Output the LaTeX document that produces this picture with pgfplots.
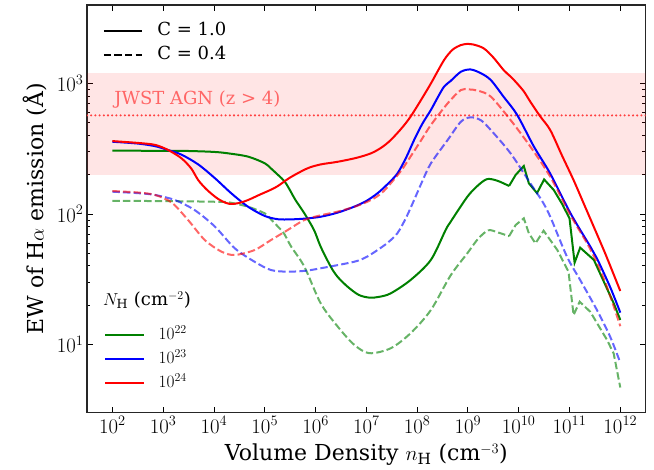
\documentclass[border=0pt]{standalone}
\usepackage{fontspec}
\setmainfont{DejaVu Serif}
\usepackage{pgfplots}
\usepackage{pgfplotstable}
\pgfplotsset{compat=1.18}
\definecolor{mgreen}{rgb}{0,0.5,0}
\definecolor{jwst}{rgb}{1,0.25,0.25}

% columns: L = log10(n_H), Y = log10(EW)
\pgfplotstableread{
L Y
2.0 2.485
2.5 2.485
3.0 2.484
3.5 2.483
4.0 2.476
4.28 2.465
4.67 2.44
5.0 2.389
5.12 2.35
5.26 2.30
5.39 2.25
5.5 2.18
5.6 2.11
5.78 2.005
5.97 1.877
6.1 1.75
6.3 1.596
6.43 1.52
6.63 1.443
6.85 1.38
7.06 1.359
7.25 1.365
7.48 1.392
7.87 1.494
8.27 1.648
8.56 1.877
8.66 1.941
8.99 2.133
9.2 2.22
9.38 2.268
9.58 2.255
9.81 2.215
}\gSa

\pgfplotstableread{
L Y
9.81 2.215
9.94 2.30
10.1 2.368
10.2 2.235
10.36 2.16
10.5 2.265
10.69 2.184
10.85 2.08
11.0 1.967
11.1 1.627
11.21 1.742
11.48 1.648
11.87 1.316
12.0 1.188
}\gSb

\pgfplotstableread{
L Y
2.0 2.10
2.5 2.10
3.0 2.099
3.5 2.097
4.0 2.094
4.28 2.09
4.67 2.056
5.0 2.005
5.12 1.96
5.26 1.903
5.38 1.85
5.52 1.75
5.78 1.596
6.1 1.316
6.43 1.14
6.76 0.998
7.06 0.933
7.48 0.971
7.87 1.086
8.27 1.264
8.66 1.53
8.99 1.70
9.2 1.81
9.4 1.875
9.58 1.86
9.81 1.83
}\gDa

\pgfplotstableread{
L Y
9.81 1.83
9.94 1.916
10.1 1.967
10.2 1.852
10.33 1.775
10.49 1.872
10.76 1.724
10.98 1.558
11.08 1.226
11.2 1.328
11.41 1.25
11.74 1.034
11.87 0.93
12.0 0.67
}\gDb

\pgfplotstableread{
L Y
2.0 2.554
2.5 2.54
2.84 2.52
3.1 2.49
3.36 2.455
3.69 2.38
4.02 2.274
4.34 2.159
4.67 2.056
5.0 1.985
5.26 1.96
5.52 1.959
5.8 1.965
6.1 1.979
6.43 2.01
6.76 2.056
7.0 2.10
7.22 2.159
7.42 2.23
7.61 2.31
7.78 2.43
7.94 2.567
8.1 2.69
8.27 2.797
8.4 2.89
8.53 2.976
8.66 3.02
8.86 3.09
9.05 3.108
9.25 3.08
9.45 3.027
9.7 2.90
9.97 2.759
10.3 2.516
10.62 2.31
11.02 2.005
11.41 1.75
11.54 1.66
11.8 1.44
12.0 1.244
}\bS

\pgfplotstableread{
L Y
2.0 2.171
2.5 2.16
2.84 2.146
3.23 2.107
3.62 2.03
4.02 1.903
4.41 1.737
4.8 1.634
5.12 1.571
5.45 1.558
5.8 1.565
6.1 1.584
6.76 1.634
7.0 1.67
7.22 1.724
7.42 1.78
7.61 1.852
7.78 1.97
7.94 2.107
8.1 2.25
8.27 2.388
8.6 2.567
8.86 2.707
9.05 2.741
9.25 2.72
9.45 2.644
9.84 2.465
10.23 2.235
10.46 2.10
10.62 1.98
10.95 1.673
11.21 1.494
11.54 1.264
11.8 1.06
12.0 0.86
}\bD

\pgfplotstableread{
L Y
2.0 2.559
2.5 2.545
2.84 2.53
3.1 2.49
3.36 2.427
3.55 2.35
3.69 2.26
3.85 2.19
4.02 2.133
4.15 2.10
4.31 2.077
4.5 2.085
4.67 2.107
4.9 2.148
5.12 2.186
5.26 2.215
5.5 2.28
5.84 2.35
6.1 2.38
6.43 2.40
6.8 2.43
7.09 2.465
7.3 2.51
7.48 2.567
7.7 2.66
7.87 2.746
8.07 2.87
8.27 3.0
8.53 3.18
8.7 3.26
8.86 3.295
8.95 3.303
9.1 3.30
9.31 3.27
9.5 3.20
9.71 3.10
9.85 3.05
9.97 3.0
10.1 2.94
10.23 2.86
10.42 2.75
10.62 2.644
10.85 2.45
11.08 2.26
11.28 2.08
11.48 1.90
11.7 1.70
11.9 1.507
12.0 1.41
}\rS

\pgfplotstableread{
L Y
2.0 2.176
2.5 2.165
2.84 2.146
3.17 2.087
3.49 1.954
3.82 1.80
4.15 1.711
4.41 1.686
4.8 1.724
5.12 1.80
5.45 1.877
5.78 1.954
6.1 1.99
6.43 2.018
6.8 2.06
7.09 2.107
7.3 2.16
7.48 2.235
7.7 2.34
7.87 2.44
8.07 2.56
8.27 2.682
8.6 2.848
8.86 2.95
9.02 2.955
9.2 2.945
9.45 2.90
9.84 2.72
10.23 2.516
10.62 2.286
11.02 1.99
11.41 1.73
11.7 1.48
12.0 1.14
}\rD

\pgfplotsset{
  solidline/.style={line width=2pt, forget plot},
  dashline/.style={line width=2pt, dash pattern=on 7.4pt off 3.2pt, opacity=0.6, forget plot},
  mylegend/.style={
    legend cell align=left,
    legend image code/.code={\draw[##1] (0pt,0pt) -- (38.5pt,0pt);},
    legend style={draw=none, fill=none, inner sep=0pt, row sep=7pt,
      font=\fontsize{18}{21}\selectfont,
      nodes={inner sep=0pt, text height=13pt, text depth=4pt},
      /tikz/every odd column/.style={column sep=14pt}},
  },
}

\begin{document}
\begin{tikzpicture}
\path[use as bounding box] (-87pt,-57.3pt) rectangle (567pt,412.7pt);
\begin{axis}[
  at={(0pt,0pt)}, anchor=south west,
  scale only axis, width=558.7pt, height=407.7pt,
  xmode=log, ymode=log,
  xmin=31.6228, xmax=3.16228e12, ymin=3, ymax=4000,
  xtick={1e2,1e3,1e4,1e5,1e6,1e7,1e8,1e9,1e10,1e11,1e12},
  xminorticks=false,
  ytick={10,100,1000},
  major tick length=6pt, minor tick length=3.5pt,
  every tick/.style={black, line width=0.9pt},
  axis line style={line width=1.1pt, black!85},
  tick label style={font=\fontsize{19.4}{22}\selectfont},
  xlabel={Volume Density $n_{\rm H}$ (cm$^{-3}$)},
  ylabel={EW of H$\alpha$ emission (Å)},
  label style={font=\fontsize{22}{26}\selectfont},
  x label style={at={(axis description cs:0.5,-0.103)}, anchor=center},
  y label style={at={(axis description cs:-0.093,0.5)}, anchor=center},
  mylegend,
  legend style={at={(axis description cs:0.0304,0.1317)}, anchor=west},
]
\addplot[draw=none, fill=red, fill opacity=0.1, forget plot] coordinates {(31.6228,200) (3.16228e12,200) (3.16228e12,1200) (31.6228,1200)};
\addplot[color=jwst, solid, line width=2.3pt, line cap=round, dash pattern=on 0pt off 4.2pt, forget plot] coordinates {(31.6228,570) (3.16228e12,570)};
\node[anchor=west, inner sep=0pt, text=red!60, font=\fontsize{18}{21}\selectfont] at (axis cs:108,760) {JWST AGN (z > 4)};

\addplot[mgreen, solidline, smooth, tension=0.5] table[x expr=10^\thisrow{L}, y expr=10^\thisrow{Y}] {\gSa};
\addplot[mgreen, solidline] table[x expr=10^\thisrow{L}, y expr=10^\thisrow{Y}] {\gSb};
\addplot[mgreen, dashline, smooth, tension=0.5] table[x expr=10^\thisrow{L}, y expr=10^\thisrow{Y}] {\gDa};
\addplot[mgreen, dashline] table[x expr=10^\thisrow{L}, y expr=10^\thisrow{Y}] {\gDb};
\addplot[blue, solidline, smooth, tension=0.5] table[x expr=10^\thisrow{L}, y expr=10^\thisrow{Y}] {\bS};
\addplot[blue, dashline, smooth, tension=0.5] table[x expr=10^\thisrow{L}, y expr=10^\thisrow{Y}] {\bD};
\addplot[red, solidline, smooth, tension=0.5] table[x expr=10^\thisrow{L}, y expr=10^\thisrow{Y}] {\rS};
\addplot[red, dashline, smooth, tension=0.5] table[x expr=10^\thisrow{L}, y expr=10^\thisrow{Y}] {\rD};

\addlegendimage{mgreen, line width=2pt}
\addlegendentry{$10^{22}$}
\addlegendimage{blue, line width=2pt}
\addlegendentry{$10^{23}$}
\addlegendimage{red, line width=2pt}
\addlegendentry{$10^{24}$}

\node[anchor=west, inner sep=0pt, font=\fontsize{18}{21}\selectfont] at (axis description cs:0.0286,0.276) {$N_{\rm H}$ (cm$^{-2}$)};
\end{axis}

\begin{axis}[
  at={(0pt,0pt)}, anchor=south west,
  scale only axis, width=558.7pt, height=407.7pt,
  hide axis,
  xmin=0, xmax=1, ymin=0, ymax=1,
  mylegend,
  legend style={at={(axis description cs:0.028,0.906)}, anchor=west},
]
\addlegendimage{black, line width=2pt}
\addlegendentry{C = 1.0}
\addlegendimage{black, line width=2pt, dash pattern=on 7.4pt off 3.2pt}
\addlegendentry{C = 0.4}
\end{axis}
\end{tikzpicture}
\end{document}
